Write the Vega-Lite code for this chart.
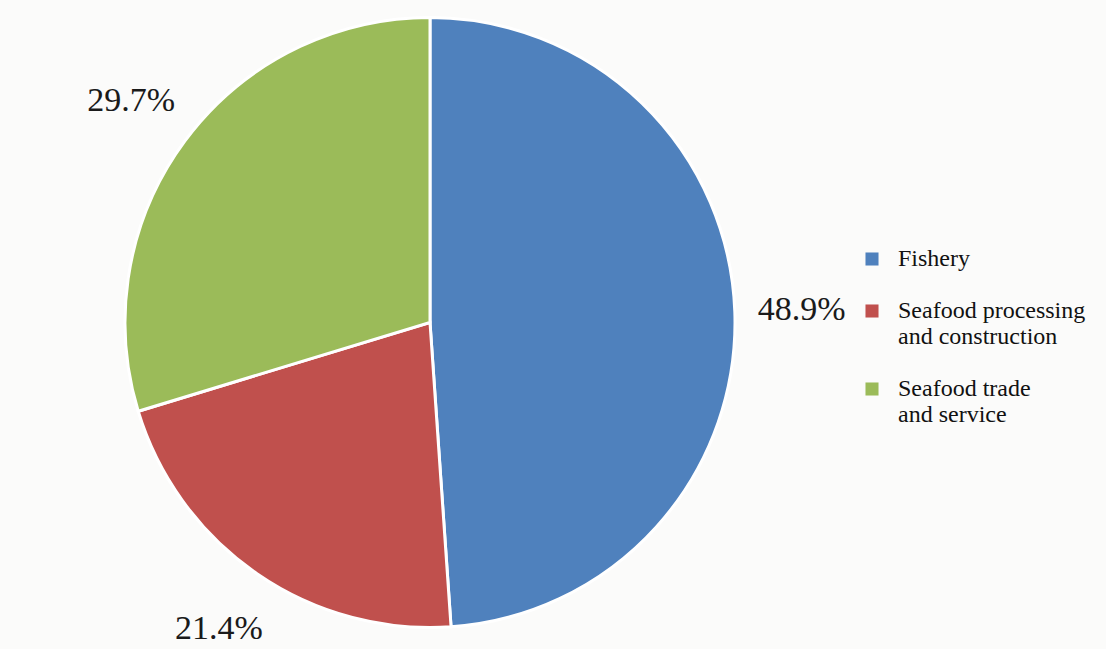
{
  "$schema": "https://vega.github.io/schema/vega-lite/v6.json",
  "width": 860,
  "height": 645,
  "padding": {"left": 0, "top": 0, "right": 246, "bottom": 4},
  "autosize": {"type": "none"},
  "background": "#fbfbfa",
  "data": {
    "values": [
      {"sector": "Fishery", "share": 48.9, "label": "48.9%", "idx": 1},
      {"sector": "Seafood processing and construction", "share": 21.4, "label": "21.4%", "idx": 2},
      {"sector": "Seafood trade and service", "share": 29.7, "label": "29.7%", "idx": 3}
    ]
  },
  "encoding": {
    "theta": {"field": "share", "type": "quantitative", "stack": true},
    "order": {"field": "idx", "type": "quantitative"},
    "color": {
      "field": "sector",
      "type": "nominal",
      "sort": ["Fishery", "Seafood processing and construction", "Seafood trade and service"],
      "scale": {
        "domain": ["Fishery", "Seafood processing and construction", "Seafood trade and service"],
        "range": ["#4f81bd", "#c0504d", "#9bbb59"]
      },
      "legend": {
        "title": null,
        "orient": "none",
        "legendX": 860,
        "legendY": 247,
        "symbolType": "square",
        "symbolSize": 170,
        "symbolStrokeWidth": 0,
        "labelFont": "Liberation Serif",
        "labelFontSize": 24,
        "labelColor": "#111111",
        "labelLimit": 300,
        "labelOffset": 14,
        "rowPadding": 28,
        "labelExpr": "datum.label == 'Seafood processing and construction' ? ['Seafood processing', 'and construction'] : datum.label == 'Seafood trade and service' ? ['Seafood trade', 'and service'] : datum.label",
        "encode": {
          "labels": {
            "enter": {"lineHeight": {"value": 28}},
            "update": {"lineHeight": {"value": 28}}
          }
        }
      }
    }
  },
  "layer": [
    {
      "mark": {"type": "arc", "outerRadius": 305, "stroke": "#ffffff", "strokeWidth": 3}
    },
    {
      "mark": {"type": "text", "radius": 372, "font": "Liberation Serif", "fontSize": 34, "color": "#1a1a1a"},
      "encoding": {
        "text": {"field": "label"},
        "color": {"value": "#1a1a1a"}
      }
    }
  ]
}
